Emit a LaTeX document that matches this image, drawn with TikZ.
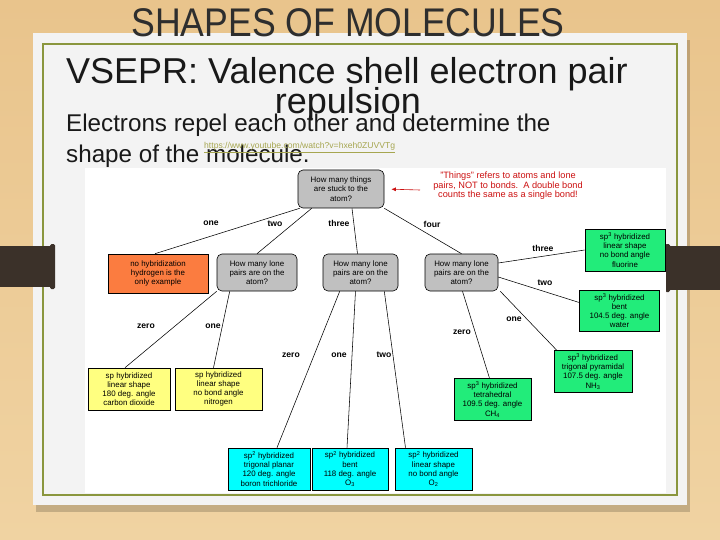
\documentclass[tikz,border=0pt]{standalone}
\usepackage{fontspec}
\setmainfont{Liberation Sans}
\usetikzlibrary{arrows.meta}
\definecolor{wood}{HTML}{E9C48C}
\definecolor{woodlight}{HTML}{F0D3A2}
\definecolor{panelc}{HTML}{F3F3F3}
\definecolor{olivec}{HTML}{8A963E}
\definecolor{tabc}{HTML}{3B3129}
\definecolor{titlec}{HTML}{2E2E2E}
\definecolor{linkc}{HTML}{A6A650}
\definecolor{qgray}{HTML}{C0C0C0}
\definecolor{orangec}{HTML}{FB7C40}
\definecolor{yellowc}{HTML}{FFFF80}
\definecolor{cyanc}{HTML}{00FFFF}
\definecolor{greenc}{HTML}{22EC7A}
\definecolor{notec}{HTML}{CC1010}
\begin{document}
\begin{tikzpicture}[x=1pt,y=-1pt,
  box/.style={draw=black, line width=0.6pt, inner sep=1pt, align=center,
    font=\fontsize{7.9}{9.2}\selectfont},
  qbox/.style={box, fill=qgray, rounded corners=5pt},
  obox/.style={box, fill=orangec},
  ybox/.style={box, fill=yellowc},
  cbox/.style={box, fill=cyanc},
  gbox/.style={box, fill=greenc},
  lbl/.style={font=\bfseries\fontsize{8.6}{9}\selectfont, inner sep=0},
  edge/.style={draw=black, line width=0.55pt},
]
\useasboundingbox (0,0) rectangle (720,540);
% background
\shade[top color=wood, bottom color=woodlight] (0,0) rectangle (720,540);
% panel with shadow
\fill[black, opacity=0.18] (36,40) rectangle (690,512);
\fill[panelc] (33,33) rectangle (687,505);
\draw[olivec, line width=1.6pt] (43,44) rectangle (677,495);
% side tabs
\fill[tabc] (0,246) rectangle (52,287);
\fill[tabc, rounded corners=1.5pt] (50,244) rectangle (55,289);
\fill[tabc] (668,246) rectangle (720,290);
\fill[tabc, rounded corners=1.5pt] (665,244) rectangle (670,292);
% texts
\node[anchor=base, inner sep=0, text=titlec, font=\fontsize{40}{40}\selectfont] (title) at (348,37)
  {\scalebox{0.89}[1]{SHAPES OF MOLECULES}};
\node[anchor=base west, inner sep=0, text=black!90, font=\fontsize{36}{36}\selectfont] (h1) at (66,84)
  {VSEPR: Valence shell electron pair};
\node[anchor=base, inner sep=0, text=black!90, font=\fontsize{36}{36}\selectfont] (h2) at (348,114)
  {repulsion};
\node[anchor=base west, inner sep=0, text=black!90, font=\fontsize{24.2}{24}\selectfont] (h3) at (66,132)
  {Electrons repel each other and determine the};
\node[anchor=base west, inner sep=0, text=black!90, font=\fontsize{24.2}{24}\selectfont] (h4) at (66,163)
  {shape of the molecule.};
\node[anchor=base west, inner sep=0, text=linkc, font=\fontsize{8.6}{9}\selectfont] (link) at (204,149)
  {\underline{https://www.youtube.com/watch?v=hxeh0ZUVVTg}};
% diagram area
\fill[white] (85,168) rectangle (666,493);
% question boxes
\node[qbox, minimum width=86pt, minimum height=38pt] (root) at (341,189)
  {How many things\\are stuck to the\\atom?};
\node[qbox, minimum width=80pt, minimum height=37pt] (q2) at (257,272.5)
  {How many lone\\pairs are on the\\atom?};
\node[qbox, minimum width=75pt, minimum height=37pt] (q3) at (360.5,272.5)
  {How many lone\\pairs are on the\\atom?};
\node[qbox, minimum width=73pt, minimum height=37pt] (q4) at (461.5,272.5)
  {How many lone\\pairs are on the\\atom?};
% note
\node[inner sep=0, align=center, text=notec, font=\fontsize{9.2}{9.6}\selectfont] (note) at (508,186)
  {"Things" refers to atoms and lone\\pairs, NOT to bonds.\ \ A double bond\\counts the same as a single bond!};
\coordinate (notetail) at (420,190);
\draw[notec, line width=0.6pt, -{Latex[length=4.5pt,width=4pt]}, shorten >=7pt] (notetail) -- (root.east);
% result boxes
\node[obox, minimum width=100pt, minimum height=39pt] (orange) at (158,273.5)
  {no hybridization\\hydrogen is the\\only example};
\node[ybox, minimum width=82pt, minimum height=42pt] (y1) at (129,389)
  {sp hybridized\\linear shape\\180 deg. angle\\carbon dioxide};
\node[ybox, minimum width=87pt, minimum height=42pt] (y2) at (218.5,389)
  {sp hybridized\\linear shape\\no bond angle\\nitrogen};
\node[cbox, minimum width=82pt, minimum height=42pt] (c1) at (269,469)
  {sp\textsuperscript{2} hybridized\\trigonal planar\\120 deg. angle\\boron trichloride};
\node[cbox, minimum width=76pt, minimum height=42pt] (c2) at (350,469)
  {sp\textsuperscript{2} hybridized\\bent\\118 deg. angle\\O\textsubscript{3}};
\node[cbox, minimum width=77pt, minimum height=42pt] (c3) at (433.5,469)
  {sp\textsuperscript{2} hybridized\\linear shape\\no bond angle\\O\textsubscript{2}};
\node[gbox, minimum width=80pt, minimum height=42pt] (g1) at (625,250)
  {sp\textsuperscript{3} hybridized\\linear shape\\no bond angle\\fluorine};
\node[gbox, minimum width=80pt, minimum height=41pt] (g2) at (619.5,310.5)
  {sp\textsuperscript{3} hybridized\\bent\\104.5 deg. angle\\water};
\node[gbox, minimum width=78pt, minimum height=42pt] (g3) at (593,371.5)
  {sp\textsuperscript{3} hybridized\\trigonal pyramidal\\107.5 deg. angle\\NH\textsubscript{3}};
\node[gbox, minimum width=77pt, minimum height=42pt] (g4) at (492.5,399.5)
  {sp\textsuperscript{3} hybridized\\tetrahedral\\109.5 deg. angle\\CH\textsubscript{4}};
% edges from root
\draw[edge] ([xshift=2pt]root.south west) -- ([xshift=-3pt]orange.north);
\draw[edge] ([xshift=14pt]root.south west) -- (q2.north);
\draw[edge] ([xshift=11pt]root.south) -- ([xshift=-3pt]q3.north);
\draw[edge] (root.south east) -- (q4.north);
% edges from q2
\draw[edge] (q2.south west) -- ([xshift=-4pt]y1.north);
\draw[edge] ([xshift=13pt]q2.south west) -- ([xshift=-5pt]y2.north);
% edges from q3
\draw[edge] ([xshift=17pt]q3.south west) -- ([xshift=8pt]c1.north);
\draw[edge] ([xshift=-5pt]q3.south) -- ([xshift=-3pt]c2.north);
\draw[edge] ([xshift=-14pt]q3.south east) -- ([xshift=-28pt]c3.north);
% edges from q4
\draw[edge] ([yshift=9.5pt]q4.east) -- (g1.west);
\draw[edge] ([yshift=-4.5pt]q4.east) -- ([yshift=8pt]g2.west);
\draw[edge] ([xshift=2pt]q4.south east) -- ([xshift=3pt]g3.north west);
\draw[edge] ([xshift=1pt]q4.south) -- ([xshift=-3pt]g4.north);
% labels
\node[lbl] (l1) at (211,223) {one};
\node[lbl] (l2) at (275,224) {two};
\node[lbl] (l3) at (339,223) {three};
\node[lbl] (l4) at (432,224) {four};
\node[lbl] (l5) at (146,326) {zero};
\node[lbl] (l6) at (213,326) {one};
\node[lbl] (l7) at (291,355) {zero};
\node[lbl] (l8) at (339,355) {one};
\node[lbl] (l9) at (384,355) {two};
\node[lbl] (l10) at (543,248) {three};
\node[lbl] (l11) at (545,283) {two};
\node[lbl] (l12) at (514,319) {one};
\node[lbl] (l13) at (462,332) {zero};
\end{tikzpicture}
\end{document}
